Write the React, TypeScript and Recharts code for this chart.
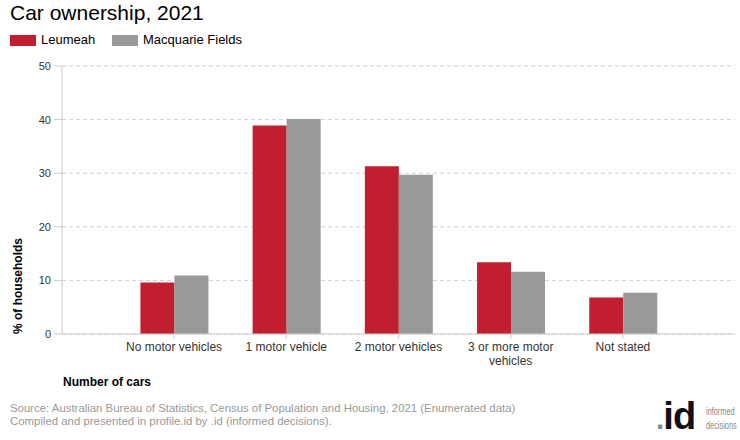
import React from 'react'
import { BarChart, Bar, XAxis, YAxis, CartesianGrid } from 'recharts'

const categories = ['No motor vehicles', '1 motor vehicle', '2 motor vehicles', '3 or more motor vehicles', 'Not stated']
const leumeah = [9.6, 38.9, 31.3, 13.4, 6.8]
const macquarieFields = [10.9, 40.1, 29.7, 11.6, 7.7]
const yTicks = [0, 10, 20, 30, 40, 50]

const RED = '#c11f30'
const GREY = '#999999'
const FONT = '"Liberation Sans", Arial, sans-serif'

const data = categories.map((name, i) => ({ name, leumeah: leumeah[i], macquarie: macquarieFields[i] }))

// crude word wrap: only the long label gets split
function wrap(label: string) {
  if (label.length <= 18) return [label]
  const lines: string[] = []
  let cur = ''
  for (const w of label.split(' ')) {
    const next = cur ? cur + ' ' + w : w
    if (next.length > 15 && cur) {
      lines.push(cur)
      cur = w
    } else cur = next
  }
  if (cur) lines.push(cur)
  return lines
}

function CategoryTick(props: any) {
  const { x, y, payload } = props
  const lines = wrap(String(payload.value))
  return (
    <text x={x} y={y} textAnchor="middle" style={{ fontFamily: FONT, fontSize: 12, fill: '#333' }}>
      {lines.map((l, i) => (
        <tspan key={i} x={x} dy={i === 0 ? 9 : 14}>
          {l}
        </tspan>
      ))}
    </text>
  )
}

function YLabel() {
  return (
    <text
      x={22}
      y={286}
      transform="rotate(-90 22 286)"
      textAnchor="middle"
      style={{ fontFamily: FONT, fontSize: 12, fontWeight: 'bold', fill: '#000' }}
    >
      % of households
    </text>
  )
}

export default function App() {
  return (
    <div style={{ position: 'absolute', left: 0, top: 0, width: 740, height: 440, background: '#fff', fontFamily: FONT }}>
      <div style={{ position: 'absolute', left: 10, top: 0, fontSize: 21, color: '#000', lineHeight: '26px' }}>Car ownership, 2021</div>

      {/* legend */}
      <div style={{ position: 'absolute', left: 10, top: 35, width: 26, height: 11, background: RED }} />
      <div style={{ position: 'absolute', left: 41, top: 32, fontSize: 13, color: '#000', lineHeight: '16px' }}>Leumeah</div>
      <div style={{ position: 'absolute', left: 112, top: 35, width: 26, height: 11, background: GREY }} />
      <div style={{ position: 'absolute', left: 143, top: 32, fontSize: 13, color: '#000', lineHeight: '16px' }}>Macquarie Fields</div>

      <BarChart
        width={740}
        height={440}
        data={data}
        margin={{ top: 66, right: 5, left: 12, bottom: 66 }}
        barCategoryGap="20%"
        barGap={0}
      >
        <CartesianGrid vertical={false} stroke="#d0d0d0" strokeDasharray="4 3" />
        <XAxis
          dataKey="name"
          height={40}
          padding={{ left: 56, right: 56 }}
          interval={0}
          stroke="#cccccc"
          tickSize={5}
          tickMargin={3}
          tick={<CategoryTick />}
        />
        <YAxis
          domain={[0, 50]}
          ticks={yTicks}
          width={50}
          stroke="#cccccc"
          tickSize={8}
          tickMargin={3}
          tick={{ fontFamily: FONT, fontSize: 11, fill: '#333' }}
          label={<YLabel />}
        />
        <Bar dataKey="leumeah" fill={RED} isAnimationActive={false} />
        <Bar dataKey="macquarie" fill={GREY} isAnimationActive={false} />
      </BarChart>

      <div style={{ position: 'absolute', left: 63, top: 375, fontSize: 12, fontWeight: 'bold', color: '#000' }}>Number of cars</div>

      <div style={{ position: 'absolute', left: 10, top: 402, fontSize: 11.4, color: '#999', lineHeight: '13px' }}>
        Source: Australian Bureau of Statistics, Census of Population and Housing, 2021 (Enumerated data)
        <br />
        Compiled and presented in profile.id by .id (informed decisions).
      </div>

      {/* logo */}
      <div style={{ position: 'absolute', left: 656, top: 396, width: 46, height: 40, overflow: 'hidden', fontSize: 38, fontWeight: 'bold', color: '#111', lineHeight: '40px', letterSpacing: -1 }}>
        <span style={{ color: '#888', fontSize: 30 }}>.</span>id
      </div>
      <div
        style={{
          position: 'absolute',
          left: 706,
          top: 404,
          fontSize: 11.5,
          color: '#888',
          lineHeight: '14px',
          transform: 'scaleX(0.64)',
          transformOrigin: 'left top',
          whiteSpace: 'nowrap',
        }}
      >
        informed
        <br />
        decisions
      </div>
    </div>
  )
}
